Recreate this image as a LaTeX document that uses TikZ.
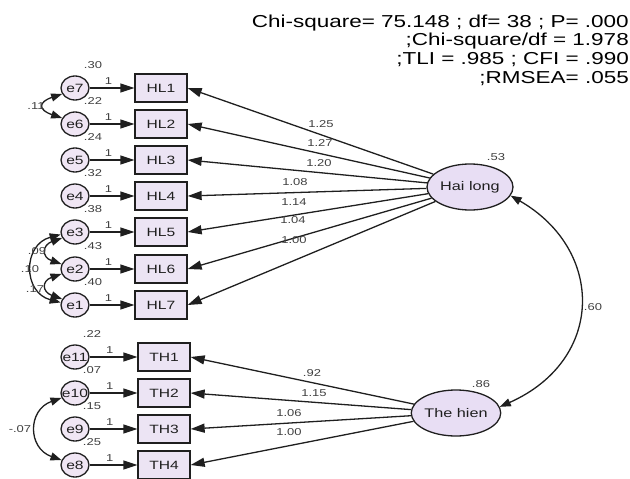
\documentclass[tikz,border=0pt]{standalone}
\usepackage{fontspec}
\setmainfont{Liberation Sans}[FakeStretch=1.3]
\usetikzlibrary{arrows.meta,shapes.geometric}
\definecolor{linec}{gray}{0.12}
\definecolor{boxfill}{RGB}{236,228,244}
\definecolor{errfill}{RGB}{240,230,244}
\definecolor{latfill}{RGB}{232,222,244}
\begin{document}
\begin{tikzpicture}[x=1pt,y=-1pt,
  every node/.style={inner sep=0pt, text=linec},
  tip/.tip={Triangle[length=14pt,width=9pt]},
  ctip/.tip={Triangle[length=11pt,width=8pt]},
  errc/.style={ellipse, draw=linec, line width=1.3pt, fill=errfill,
    minimum width=28pt, minimum height=24pt, inner xsep=-5pt,
    font=\fontsize{12}{12}\selectfont},
  obsbox/.style={rectangle, draw=linec, line width=1.3pt, fill=boxfill,
    minimum width=52pt, minimum height=28pt, font=\fontsize{12}{12}\selectfont},
  latent/.style={ellipse, draw=linec, line width=1.3pt, fill=latfill,
    minimum width=86pt, minimum height=46pt, font=\fontsize{12.5}{13}\selectfont},
  num/.style={font=\fontsize{10}{10}\selectfont, text=black!75},
  path/.style={draw=linec, line width=1.3pt, -{tip}},
  cov/.style={draw=linec, line width=1.3pt, {ctip}-{ctip}},
]
\useasboundingbox (0,0) rectangle (630,479);

% fit indices
\node[anchor=north east, align=right, font=\fontsize{17.3}{18.7}\selectfont, text=black] (fitidx) at (629,14.5)
  {Chi-square= 75.148 ; df= 38 ; P= .000\\;Chi-square/df = 1.978\\;TLI = .985 ; CFI = .990\\;RMSEA= .055};

% latent factors
\node[latent] (hl) at (470,187) {Hai long};
\node[latent] (th) at (456,413) {The hien};
\node[num] (vhl) at (496,157) {.53};
\node[num] (vth) at (481,384) {.86};

% indicators of Hai long with their error terms
\foreach \i/\e/\y/\v in {1/7/88/.30, 2/6/124/.22, 3/5/160/.24, 4/4/196/.32, 5/3/232/.38, 6/2/269/.43, 7/1/305/.40} {
  \node[obsbox] (HL\i) at (161,\y) {HL\i};
  \node[errc] (e\e) at (75,\y) {e\e};
  \node[num] (ve\e) at (93,\y-23) {\v};
  \draw[path] (e\e) -- node[num, pos=0.42, above=3pt] {1} (HL\i);
}

% indicators of The hien with their error terms
\foreach \i/\e/\y/\v in {1/11/357/.22, 2/10/393/.07, 3/9/429/.15, 4/8/465/.25} {
  \node[obsbox] (TH\i) at (164,\y) {TH\i};
  \node[errc] (e\e) at (75,\y) {e\e};
  \node[num] (ve\e) at (92,\y-23) {\v};
  \draw[path] (e\e) -- node[num, pos=0.42, above=3pt] {1} (TH\i);
}

% factor loadings
\foreach \i in {1,...,7} { \draw[path] (hl) -- (HL\i.east); }
\foreach \i in {1,...,4} { \draw[path] (th) -- (TH\i.east); }
\node[num] (l1) at (321,124) {1.25};
\node[num] (l2) at (320,143) {1.27};
\node[num] (l3) at (319,163) {1.20};
\node[num] (l4) at (295,182) {1.08};
\node[num] (l5) at (294,202) {1.14};
\node[num] (l6) at (293,220) {1.04};
\node[num] (l7) at (294,240) {1.00};
\node[num] (m1) at (312,373) {.92};
\node[num] (m2) at (314,393) {1.15};
\node[num] (m3) at (289,413) {1.06};
\node[num] (m4) at (289,432) {1.00};

% error covariances
\draw[cov] (e7.205) .. controls +(-24,8) and +(-24,-8) .. (e6.155);
\draw[cov] (e3.205) .. controls +(-20,7) and +(-20,-7) .. (e2.160);
\draw[cov] (e2.200) .. controls +(-20,7) and +(-20,-7) .. (e1.155);
\draw[cov] (e3.190) .. controls +(-38,10) and +(-38,-10) .. (e1.170);
\draw[cov] (e10.200) .. controls +(-34,12) and +(-34,-12) .. (e8.160);
\node[num] (c76) at (36,106) {.11};
\node[num] (c32) at (37,251) {.09};
\node[num] (c31) at (30,269) {.10};
\node[num] (c21) at (35,289) {.17};
\node[num] (c108) at (20,429) {-.07};

% factor covariance
\draw[cov] (hl.-12) .. controls (605,250) and (605,360) .. (th.8);
\node[num] (cf) at (593,307) {.60};
\end{tikzpicture}
\end{document}
